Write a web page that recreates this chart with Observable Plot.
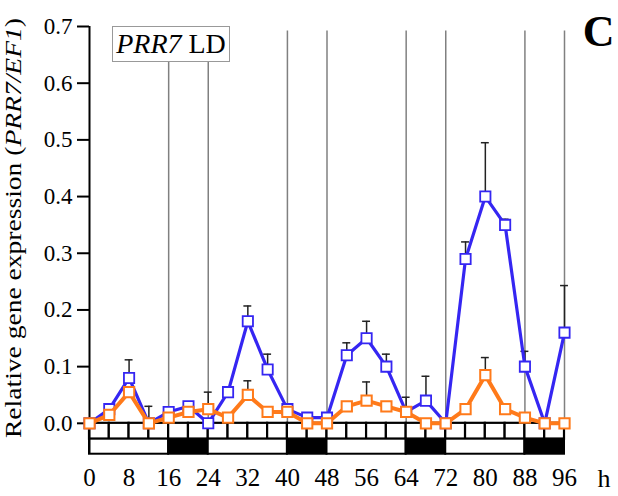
<!DOCTYPE html>
<html>
<head>
<meta charset="utf-8">
<script src="https://cdn.jsdelivr.net/npm/d3@7"></script>
<script src="https://cdn.jsdelivr.net/npm/@observablehq/plot@0.6"></script>
<style>
  html, body { margin: 0; padding: 0; background: #fff; }
  #wrap { position: relative; width: 618px; height: 496px; }
  #chart svg, #chart svg text { font-family: "Liberation Serif", "Times New Roman", serif !important; }
  #title {
    position: absolute; left: 112px; top: 26px; width: 116px; height: 34px;
    border: 1px solid #999; background: #fff;
    font-family: "Liberation Serif", "Times New Roman", serif; font-size: 28px; line-height: 34px;
    text-align: center; color: #000; white-space: nowrap;
  }
</style>
</head>
<body>
<div id="wrap">
  <div id="chart"></div>
  <div id="title"><i>PRR7</i> LD</div>
</div>
<script>
// Sampling times (h)
const hours = [0, 4, 8, 12, 16, 20, 24, 28, 32, 36, 40, 44, 48, 52, 56, 60, 64, 68, 72, 76, 80, 84, 88, 92, 96];
// Blue series (mean) and upper end of its error bar
const blueValues = [0.0, 0.025, 0.08, 0.0, 0.02, 0.03, 0.0, 0.055, 0.18, 0.095, 0.025, 0.01, 0.01, 0.12, 0.15, 0.10, 0.02, 0.04, 0.0, 0.29, 0.40, 0.35, 0.10, 0.0, 0.16];
const blueErrTop  = [null, 0.033, 0.112, 0.03, null, null, null, null, 0.207, 0.122, null, null, null, 0.142, 0.18, 0.122, 0.046, 0.083, null, 0.32, 0.495, 0.36, 0.127, null, 0.243];
// Orange series (mean) and upper end of its error bar
const orangeValues = [0.0, 0.015, 0.055, 0.0, 0.01, 0.02, 0.025, 0.01, 0.05, 0.02, 0.02, 0.0, 0.0, 0.03, 0.04, 0.03, 0.02, 0.0, 0.0, 0.025, 0.085, 0.025, 0.01, 0.0, 0.0];
const orangeErrTop = [null, null, null, null, null, null, 0.055, null, 0.075, null, null, null, null, null, 0.073, null, null, null, null, null, 0.116, null, null, null, null];
// Light/dark regime (16 h light : 8 h dark)
const periodStart = [0, 16, 24, 40, 48, 64, 72, 88];
const periodEnd   = [16, 24, 40, 48, 64, 72, 88, 96];
const periodDark  = [false, true, false, true, false, true, false, true];
// Vertical reference lines at light/dark transitions
const transitions = [16, 24, 40, 48, 64, 72, 88, 96];
// Axis ticks
const xTicks = [0, 8, 16, 24, 32, 40, 48, 56, 64, 72, 80, 88, 96];
const yTicks = [0.0, 0.1, 0.2, 0.3, 0.4, 0.5, 0.6, 0.7];

const serif = '"Liberation Serif", "Times New Roman", serif';
const blueColor = "#3526f2";
const orangeColor = "#ff7a1a";
const yMin = -0.055, yMax = 0.7;
const stripMid = -0.028;

const blue = hours.map((h, i) => ({h, v: blueValues[i], top: blueErrTop[i]}));
const orange = hours.map((h, i) => ({h, v: orangeValues[i], top: orangeErrTop[i]}));
const errs = blue.concat(orange).filter(d => d.top != null);
const slots = hours.slice(0, -1).map(h => ({a: h, b: h + 4}));
const periods = periodStart.map((s, i) => ({a: s, b: periodEnd[i], dark: periodDark[i]}));

const svg = Plot.plot({
  width: 618,
  height: 496,
  marginLeft: 89,
  marginRight: 54,
  marginTop: 26,
  marginBottom: 42,
  x: {domain: [0, 96]},
  y: {domain: [yMin, yMax]},
  style: {fontFamily: serif, color: "#000", background: "#fff", overflow: "visible"},
  marks: [
    Plot.ruleX(transitions, {y1: 0, y2: 0.692, stroke: "#808080", strokeWidth: 1.5}),
    // small boxes row under the baseline
    Plot.rect(slots, {x1: "a", x2: "b", y1: stripMid, y2: 0, fill: "white", stroke: "black", strokeWidth: 2.2}),
    // light/dark bar
    Plot.rect(periods, {x1: "a", x2: "b", y1: yMin + 0.0005, y2: stripMid, fill: d => d.dark ? "black" : "white", stroke: "black", strokeWidth: 2}),
    Plot.ruleX([0], {y1: yMin + 0.0005, y2: yMax, stroke: "black", strokeWidth: 2}),
    Plot.axisY({ticks: yTicks, tickFormat: d3.format(".1f"), tickSize: 12, tickPadding: 5, fontSize: 23, fontFamily: serif, strokeWidth: 2, label: null}),
    Plot.axisX({ticks: xTicks, tickSize: 0, tickPadding: 14, fontSize: 25, fontFamily: serif, label: null}),
    // error bars
    Plot.ruleX(errs, {x: "h", y1: "v", y2: "top", stroke: "#222", strokeWidth: 1.5}),
    Plot.ruleY(errs, {y: "top", x1: d => d.h - 0.8, x2: d => d.h + 0.8, stroke: "#222", strokeWidth: 1.5}),
    Plot.line(blue, {x: "h", y: "v", stroke: blueColor, strokeWidth: 3.2}),
    Plot.dot(blue, {x: "h", y: "v", symbol: "square", r: 5.8, fill: "white", stroke: blueColor, strokeWidth: 1.8}),
    Plot.line(orange, {x: "h", y: "v", stroke: orangeColor, strokeWidth: 4}),
    Plot.dot(orange, {x: "h", y: "v", symbol: "square", r: 5.8, fill: "white", stroke: orangeColor, strokeWidth: 2}),
    Plot.text(["h"], {frameAnchor: "bottom-right", textAnchor: "start", lineAnchor: "top", dx: 33, dy: 14, fontSize: 26, fontFamily: serif}),
    Plot.text(["C"], {frameAnchor: "top-right", textAnchor: "end", lineAnchor: "top", dx: 50, dy: -12, fontSize: 44, fontWeight: "bold", fontFamily: serif})
  ]
});

const label = d3.select(svg).append("text")
  .attr("transform", "translate(21,228) rotate(-90)")
  .attr("text-anchor", "middle")
  .style("font-family", serif)
  .attr("font-size", 23)
  .attr("fill", "#000")
  .attr("textLength", 420)
  .attr("lengthAdjust", "spacingAndGlyphs");
label.append("tspan").text("Relative gene expression (");
label.append("tspan").attr("font-style", "italic").text("PRR7/EF1");
label.append("tspan").text(")");

document.getElementById("chart").appendChild(svg);
</script>
</body>
</html>
